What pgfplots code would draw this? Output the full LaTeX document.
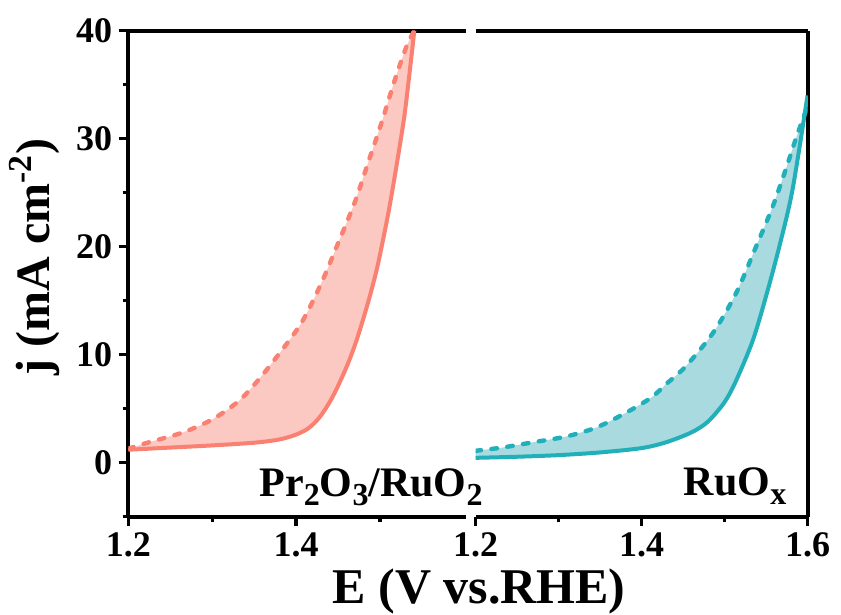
\documentclass[border=0pt]{standalone}
\usepackage{fontspec}
\setmainfont{Liberation Serif}
\usepackage{pgfplots}
\pgfplotsset{compat=1.18}
\usepgfplotslibrary{fillbetween}

\definecolor{salmonL}{RGB}{250,128,114}
\definecolor{salmonF}{RGB}{252,200,194}
\definecolor{tealL}{RGB}{33,175,186}
\definecolor{tealF}{RGB}{168,218,223}

\newcommand{\sub}[1]{\raisebox{-0.45ex}{\fontsize{16}{16}\selectfont #1}}

\pgfplotsset{
  lsv/.style={
    scale only axis, height=243pt,
    set layers,
    ymin=-5, ymax=40,
    /pgf/number format/assume math mode=true,
    tick label style={font=\fontsize{18}{18}\selectfont\bfseries},
    tick align=outside,
    major tick length=4.5pt, minor tick length=2.8pt,
    every tick/.style={black, line width=1.6pt},
    axis line style={line width=2pt},
    xticklabel style={/pgf/number format/fixed, /pgf/number format/precision=1, /pgf/number format/fixed zerofill},
  },
  solid curve/.style={line width=2pt, smooth},
  dash curve/.style={line width=2.2pt, smooth, dash pattern=on 2.8pt off 5.2pt, line cap=round},
}

\begin{document}
\begin{tikzpicture}
  \begin{axis}[lsv,
      width=169pt,
      xmin=1.2, xmax=1.603,
      axis x line*=box, axis y line*=left,
      xtick pos=left,
      xtick={1.2,1.4}, minor xtick={1.3,1.5},
      ytick={0,10,20,30,40}, minor ytick={-5,5,15,25,35},
  ]
  \addplot[name path=ps, salmonL, solid curve] coordinates {
    (1.200,1.2)(1.250,1.4)(1.300,1.6)(1.350,1.85)(1.380,2.15)(1.400,2.6)
    (1.415,3.2)(1.428,4.2)(1.440,5.6)(1.450,7.1)(1.462,9.2)(1.472,11.3)
    (1.482,13.8)(1.490,16.0)(1.498,18.5)(1.510,23.1)(1.520,27.6)(1.530,32.6)(1.541,40.0)
  };
  \addplot[name path=pd, salmonL, dash curve] coordinates {
    (1.200,1.3)(1.225,1.9)(1.265,2.8)(1.300,4.0)(1.330,5.6)(1.350,7.2)
    (1.374,9.5)(1.406,12.9)(1.430,16.6)(1.450,20.3)(1.470,24.1)(1.486,27.8)
    (1.502,31.5)(1.518,35.5)(1.532,38.6)(1.541,40.0)
  };
  \addplot[salmonF, draw=none] fill between[of=ps and pd];
  \end{axis}

  \begin{axis}[lsv,
      at={(173.6pt,0pt)},
      width=166pt,
      xmin=1.2, xmax=1.6,
      axis x line*=box, axis y line*=right,
      xtick pos=left,
      xtick={1.2,1.4,1.6}, minor xtick={1.3,1.5},
      ytick=\empty,
  ]
  \addplot[name path=rs, tealL, solid curve] coordinates {
    (1.200,0.45)(1.250,0.55)(1.300,0.7)(1.350,0.95)(1.400,1.35)(1.430,1.9)
    (1.460,2.8)(1.480,3.8)(1.500,5.6)(1.514,7.6)(1.534,11.3)(1.550,15.4)
    (1.566,20.0)(1.582,25.3)(1.600,34.0)
  };
  \addplot[name path=rd, tealL, dash curve] coordinates {
    (1.200,1.1)(1.232,1.4)(1.270,1.9)(1.308,2.4)(1.340,3.1)(1.361,3.8)
    (1.390,5.0)(1.413,6.1)(1.430,7.3)(1.453,8.9)(1.486,12.0)(1.514,15.7)
    (1.538,20.0)(1.558,23.7)(1.574,27.2)(1.586,30.0)(1.600,33.0)
  };
  \addplot[tealF, draw=none] fill between[of=rs and rd];
  \end{axis}

  \node[anchor=base, font=\fontsize{21}{21}\selectfont\bfseries] at (121.4pt,10pt)
    {Pr\sub{2}O\sub{3}/RuO\sub{2}};
  \node[anchor=base, font=\fontsize{21}{21}\selectfont\bfseries] at (303.4pt,10.5pt)
    {RuO\sub{x}};
  \node[anchor=base, font=\fontsize{25}{25}\selectfont\bfseries] at (175.4pt,-43.3pt)
    {E (V vs.RHE)};
  \node[rotate=90, anchor=center, font=\fontsize{24}{24}\selectfont\bfseries] at (-46.7pt,129.9pt)
    {j (mA cm\textsuperscript{-2})};

  \pgfresetboundingbox
  \useasboundingbox (-64.15pt,-49.15pt) rectangle (356.35pt,258.35pt);
\end{tikzpicture}
\end{document}
